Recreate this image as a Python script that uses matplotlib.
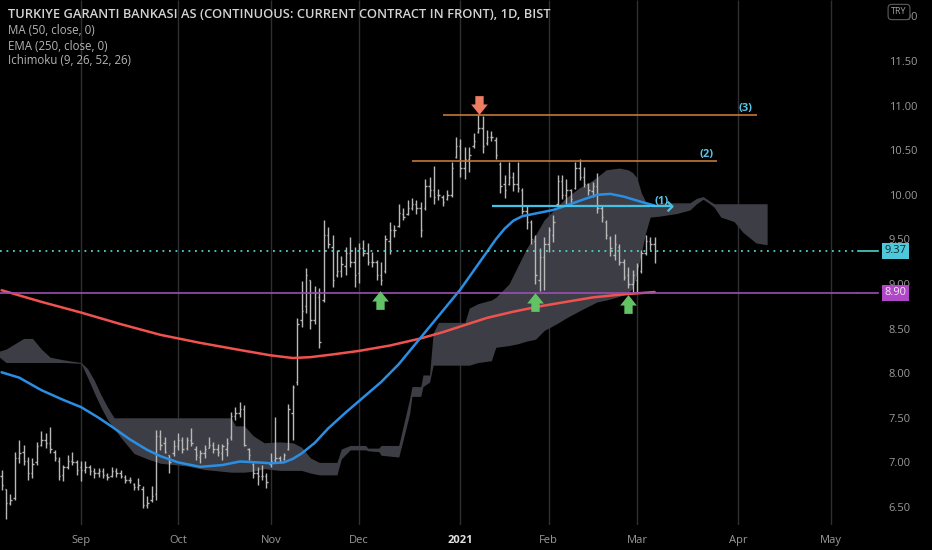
import matplotlib
matplotlib.use("Agg")
import matplotlib.pyplot as plt
import matplotlib.transforms as mtransforms
from matplotlib.path import Path
import numpy as np

plt.rcParams['font.family'] = ['Open Sans', 'DejaVu Sans']

# ---------------- data ----------------
highs = [6.92, 6.70, 6.65, 7.12, 7.25, 7.20, 7.06, 7.05, 7.23, 7.35,
         7.33, 7.40, 7.14, 7.06, 6.97, 7.08, 7.12, 7.03, 7.01, 7.01,
         6.97, 6.94, 6.94, 6.94, 6.88, 6.95, 6.94, 6.92, 6.86, 6.84,
         6.77, 6.82, 6.73, 6.62, 6.73, 7.36, 7.36, 7.29, 7.08, 7.25,
         7.33, 7.29, 7.29, 7.38, 7.18, 7.14, 7.20, 7.29, 7.23, 7.21,
         7.21, 7.27, 7.57, 7.62, 7.68, 7.64, 7.16, 6.99, 6.95, 6.97,
         6.88, 7.10, 7.51, 7.07, 7.10, 7.66, 7.87, 8.62, 9.03, 9.18,
         9.05, 8.98, 8.95, 9.72, 9.64, 9.55, 9.38, 9.31, 9.42, 9.53,
         9.42, 9.46, 9.49, 9.46, 9.36, 9.27, 9.25, 9.55, 9.70, 9.66,
         9.90, 9.85, 9.94, 9.96, 9.94, 9.92, 10.18, 10.20, 10.32, 10.07,
         10.00, 10.05, 10.37, 10.65, 10.63, 10.54, 10.54, 10.69, 10.90, 10.88,
         10.73, 10.71, 10.65, 10.37, 10.22, 10.37, 10.26, 10.37, 10.08, 9.89,
         9.72, 9.55, 9.40, 9.53, 9.64, 9.77, 10.22, 10.22, 10.18, 10.07,
         10.37, 10.40, 10.31, 10.13, 10.14, 10.24, 9.88, 9.72, 9.54, 9.56,
         9.45, 9.28, 9.19, 9.16, 9.23, 9.38, 9.55, 9.53, 9.53]
lows = [6.69, 6.37, 6.52, 6.58, 6.99, 6.97, 6.80, 6.82, 6.97, 7.18,
        7.16, 7.10, 7.01, 6.80, 6.79, 6.93, 6.97, 6.86, 6.79, 6.88,
        6.86, 6.82, 6.84, 6.82, 6.80, 6.84, 6.84, 6.82, 6.77, 6.77,
        6.69, 6.69, 6.49, 6.49, 6.56, 6.58, 7.14, 7.10, 6.88, 7.07,
        7.14, 7.10, 7.14, 7.18, 7.03, 6.99, 7.05, 7.16, 7.10, 7.07,
        7.03, 7.07, 7.25, 7.48, 7.51, 7.18, 7.03, 6.82, 6.75, 6.80,
        6.71, 6.95, 6.99, 6.99, 7.03, 7.14, 7.25, 7.87, 8.52, 8.67,
        8.50, 8.55, 8.28, 8.80, 9.40, 8.97, 9.08, 9.08, 9.10, 9.19,
        8.97, 9.01, 9.31, 9.21, 9.19, 9.05, 8.99, 9.12, 9.34, 9.53,
        9.64, 9.72, 9.77, 9.83, 9.79, 9.53, 9.83, 9.98, 9.90, 9.94,
        9.87, 9.94, 9.98, 10.41, 10.20, 10.18, 10.26, 10.52, 10.69, 10.47,
        10.56, 10.60, 10.40, 10.02, 9.96, 10.11, 10.04, 10.03, 9.78, 9.62,
        9.45, 9.00, 8.92, 8.93, 9.36, 9.47, 9.88, 9.95, 9.90, 9.89,
        10.06, 10.17, 10.09, 10.00, 9.97, 9.80, 9.70, 9.51, 9.31, 9.27,
        9.21, 9.04, 8.96, 8.90, 8.90, 9.12, 9.32, 9.38, 9.23]
opens = [6.85, 6.70, 6.55, 6.60, 7.05, 7.12, 7.02, 6.88, 7.00, 7.20,
         7.25, 7.22, 7.12, 7.02, 6.86, 6.95, 7.02, 7.00, 6.95, 6.92,
         6.95, 6.90, 6.88, 6.90, 6.86, 6.85, 6.90, 6.88, 6.84, 6.80,
         6.76, 6.72, 6.70, 6.52, 6.58, 6.65, 7.30, 7.22, 7.08, 7.10,
         7.18, 7.25, 7.16, 7.25, 7.15, 7.06, 7.10, 7.16, 7.20, 7.15,
         7.10, 7.15, 7.28, 7.52, 7.55, 7.60, 7.15, 6.98, 6.88, 6.85,
         6.85, 6.98, 7.03, 7.05, 7.04, 7.15, 7.55, 7.90, 8.60, 8.75,
         9.05, 8.60, 8.85, 8.82, 9.55, 9.42, 9.10, 9.15, 9.20, 9.35,
         9.25, 9.12, 9.40, 9.35, 9.25, 9.25, 9.10, 9.15, 9.48, 9.60,
         9.65, 9.78, 9.78, 9.85, 9.90, 9.85, 9.85, 10.10, 10.05, 10.00,
         9.98, 9.95, 10.00, 10.42, 10.55, 10.30, 10.40, 10.55, 10.70, 10.75,
         10.58, 10.65, 10.62, 10.35, 10.12, 10.12, 10.20, 10.12, 10.05, 9.82,
         9.70, 9.48, 9.05, 9.30, 9.45, 9.55, 9.90, 10.15, 10.00, 10.05,
         10.08, 10.30, 10.20, 10.12, 10.04, 10.10, 9.85, 9.70, 9.52, 9.32,
         9.42, 9.25, 9.10, 9.00, 9.05, 9.15, 9.35, 9.48, 9.45]
closes = [6.75, 6.55, 6.58, 7.05, 7.10, 7.02, 6.88, 6.98, 7.18, 7.25,
          7.22, 7.15, 7.05, 6.85, 6.95, 7.02, 7.00, 6.92, 6.92, 6.95,
          6.90, 6.88, 6.90, 6.86, 6.84, 6.90, 6.88, 6.85, 6.80, 6.80,
          6.72, 6.75, 6.52, 6.55, 6.62, 7.30, 7.20, 7.12, 7.00, 7.18,
          7.25, 7.15, 7.25, 7.22, 7.08, 7.10, 7.15, 7.20, 7.15, 7.12,
          7.18, 7.22, 7.52, 7.55, 7.60, 7.20, 7.08, 6.88, 6.85, 6.85,
          6.78, 7.02, 7.05, 7.02, 7.08, 7.60, 7.85, 8.55, 8.70, 9.10,
          8.60, 8.90, 8.35, 9.55, 9.45, 9.05, 9.15, 9.22, 9.35, 9.25,
          9.10, 9.40, 9.35, 9.25, 9.25, 9.10, 9.05, 9.50, 9.60, 9.60,
          9.80, 9.75, 9.85, 9.90, 9.85, 9.60, 10.10, 10.05, 9.98, 10.00,
          9.92, 10.00, 10.30, 10.55, 10.30, 10.40, 10.45, 10.60, 10.75, 10.55,
          10.65, 10.65, 10.45, 10.10, 10.05, 10.20, 10.12, 10.08, 9.82, 9.70,
          9.50, 9.10, 9.30, 9.45, 9.60, 9.70, 10.15, 10.00, 10.05, 9.95,
          10.30, 10.20, 10.12, 10.05, 10.10, 9.85, 9.75, 9.55, 9.40, 9.45,
          9.25, 9.08, 9.00, 9.10, 9.20, 9.35, 9.48, 9.45, 9.37]

ma_idx = [0, 4, 9, 14, 18, 22, 25, 29, 33, 36, 40, 45, 50, 54, 58, 61, 64,
          66, 68, 71, 74, 78, 82, 86, 90, 93, 97, 101, 104, 107, 110, 112,
          114, 116, 118, 120, 122, 125, 128, 132, 135, 138, 141, 145, 148]
ma_vals = [8.01, 7.95, 7.81, 7.70, 7.62, 7.50, 7.40, 7.26, 7.14, 7.07, 7.00,
           6.95, 6.97, 7.01, 7.00, 6.99, 7.00, 7.04, 7.10, 7.22, 7.38, 7.56,
           7.73, 7.90, 8.10, 8.28, 8.52, 8.76, 8.94, 9.15, 9.36, 9.50, 9.62,
           9.71, 9.76, 9.78, 9.80, 9.83, 9.88, 9.95, 10.00, 10.01, 9.98, 9.92,
           9.88]

ema_idx = [0, 9, 18, 27, 36, 45, 54, 61, 66, 70, 75, 81, 88, 95, 100, 105,
           110, 116, 122, 128, 134, 140, 148]
ema_vals = [8.93, 8.80, 8.68, 8.55, 8.43, 8.34, 8.26, 8.20, 8.17, 8.18, 8.21,
            8.25, 8.31, 8.39, 8.46, 8.54, 8.62, 8.69, 8.75, 8.80, 8.85, 8.88,
            8.91]

cloud_idx = [-1, 1, 3, 5, 7, 9, 11, 14, 18, 19.5, 21, 22.5, 24, 25.5, 27, 30,
             33, 36, 42, 46, 52, 53, 55, 57, 59.5, 63, 66, 68, 70, 72, 76, 77,
             79, 82.5, 83, 85.5, 86, 90, 91, 92.5, 93, 95, 95.5, 97, 97.8, 99,
             105, 106, 108, 111, 112, 115, 117, 119, 121, 123, 126, 128, 131,
             133, 135, 137, 140, 142, 143, 144, 145, 146, 147, 149, 153, 156,
             157.5, 159, 160.5, 161.5, 163, 166, 168, 169.5, 171, 173.5]
cloud_top = [8.24, 8.27, 8.33, 8.39, 8.39, 8.27, 8.18, 8.15, 8.12, 8.05, 7.92,
             7.76, 7.62, 7.50, 7.50, 7.50, 7.50, 7.50, 7.50, 7.50, 7.50, 7.41,
             7.41, 7.30, 7.22, 7.23, 7.22, 7.17, 7.05, 7.00, 7.00, 7.15, 7.19,
             7.19, 7.16, 7.16, 7.19, 7.19, 7.40, 7.72, 7.85, 7.85, 7.98, 7.98,
             8.45, 8.57, 8.57, 8.73, 8.78, 8.82, 8.85, 9.00, 9.20, 9.40, 9.55,
             9.72, 9.87, 9.97, 10.08, 10.13, 10.20, 10.28, 10.30, 10.28, 10.25,
             10.19, 10.02, 9.92, 9.86, 9.91, 9.91, 9.91, 9.96, 9.98, 9.93, 9.90,
             9.90, 9.90, 9.90, 9.90, 9.90, 9.90]
cloud_bot = [8.20, 8.12, 8.12, 8.12, 8.12, 8.12, 8.12, 8.12, 8.11, 7.95, 7.78,
             7.62, 7.48, 7.38, 7.28, 7.10, 7.04, 6.99, 6.96, 6.92, 6.89, 6.89,
             6.89, 6.90, 6.93, 6.91, 6.91, 6.91, 6.88, 6.86, 6.86, 7.04, 7.14,
             7.14, 7.13, 7.12, 7.08, 7.06, 7.25, 7.55, 7.74, 7.74, 7.85, 7.90,
             8.09, 8.09, 8.09, 8.09, 8.12, 8.14, 8.29, 8.31, 8.33, 8.36, 8.38,
             8.48, 8.56, 8.62, 8.70, 8.75, 8.80, 8.82, 8.86, 8.90, 8.95, 9.12,
             9.35, 9.58, 9.75, 9.76, 9.79, 9.83, 9.90, 9.95, 9.90, 9.86, 9.75,
             9.70, 9.58, 9.52, 9.46, 9.44]

month_idx = [18, 40, 61, 81, 104, 124, 144, 167, 188]
month_labels = ['Sep', 'Oct', 'Nov', 'Dec', '2021', 'Feb', 'Mar', 'Apr', 'May']
ytick_vals = [6.5, 7.0, 7.5, 8.0, 8.5, 9.0, 9.5, 10.0, 10.5, 11.0, 11.5, 12.0]

support_level = 8.90
last_price = 9.37
levels = [10.90, 10.38, 9.87]
level_start = [100.0, 93.0, 111.2]
level_end = [171.2, 162.1, 152.0]
level_labels = ['(3)', '(2)', '(1)']
level_label_idx = [168.5, 159.7, 149.5]
level_label_price = [10.97, 10.45, 9.93]

up_arrow_idx = [85.8, 120.9, 142.0]
up_arrow_price = [8.82, 8.80, 8.78]
down_arrow_idx = [108.2]
down_arrow_price = [11.01]

legend_lines = ['TURKIYE GARANTI BANKASI AS (CONTINUOUS: CURRENT CONTRACT IN FRONT), 1D, BIST',
                'MA (50, close, 0)', 'EMA (250, close, 0)', 'Ichimoku (9, 26, 52, 26)']

# ---------------- figure ----------------
W, H = 932, 550
fig = plt.figure(figsize=(W / 100, H / 100), dpi=100, facecolor='black')
ax = fig.add_axes([0, 25 / H, 858 / W, 525 / H], facecolor='black')
ax.set_xlim(-0.363, 194.1)
ax.set_ylim(6.298, 12.184)
for s in ax.spines.values():
    s.set_visible(False)

# month grid
ax.vlines(month_idx, 6.298, 12.184, color='#2e2e33', lw=1.0, zorder=0)

# ichimoku cloud
ax.fill_between(cloud_idx, cloud_bot, cloud_top, color='#3d3e45', lw=0, zorder=1)

# OHLC bars
idx = np.arange(len(highs))
bar_col = '#b9b9b9'
ax.vlines(idx, lows, highs, color=bar_col, lw=1.0, zorder=3)
ax.hlines(opens, idx - 0.32, idx, color=bar_col, lw=1.0, zorder=3)
ax.hlines(closes, idx, idx + 0.32, color=bar_col, lw=1.0, zorder=3)

# moving averages
ax.plot(ema_idx, ema_vals, color='#f0524f', lw=1.8, zorder=4,
        solid_capstyle='round', solid_joinstyle='round')
ax.plot(ma_idx, ma_vals, color='#2a8fe4', lw=1.8, zorder=4,
        solid_capstyle='round', solid_joinstyle='round')

# horizontal levels
ax.axhline(support_level, color='#9a4fb4', lw=1.2, zorder=5)
ax.axhline(last_price, color='#4fd0c8', lw=1.3, ls=(0, (1, 2.6)), zorder=5)
lvl_cols = ['#c47838', '#c47838', '#44c2e6']
lvl_w = [1.2, 1.2, 1.6]
for lv, a, b, c, w in zip(levels, level_start, level_end, lvl_cols, lvl_w):
    ax.hlines(lv, a, b, color=c, lw=w, zorder=5)
chev = Path([(-1, 1), (0, 0), (-1, -1)], [Path.MOVETO, Path.LINETO, Path.LINETO])
ax.plot([level_end[2]], [levels[2]], ls='none', marker=chev, markersize=7,
        mfc='none', mec='#44c2e6', mew=1.6, zorder=5)
for t, xi, yi in zip(level_labels, level_label_idx, level_label_price):
    ax.text(xi, yi, t, color='#58c4e8', fontsize=8, fontweight='bold',
            ha='center', va='center', zorder=6)

# arrows
up_path = Path([(0, 9), (8, -1), (4, -1), (4, -9), (-4, -9), (-4, -1), (-8, -1), (0, 9)])
down_path = Path([(0, -9), (8, 1), (4, 1), (4, 9), (-4, 9), (-4, 1), (-8, 1), (0, -9)])
ax.plot(up_arrow_idx, up_arrow_price, ls='none', marker=up_path, markersize=13.5,
        color='#63c266', mec='none', zorder=6)
ax.plot(down_arrow_idx, down_arrow_price, ls='none', marker=down_path, markersize=13.5,
        color='#ef7d62', mec='none', zorder=6)

# axes ticks
ax.set_xticks(month_idx)
ax.set_xticklabels(month_labels)
ax.tick_params(axis='x', length=0, pad=7, labelsize=8, labelcolor='#9a9a9a')
for lbl in ax.get_xticklabels():
    if lbl.get_text() == '2021':
        lbl.set_color('#e2e2e2')
        lbl.set_fontweight('bold')
ax.yaxis.tick_right()
ax.set_yticks(ytick_vals)
ax.set_yticklabels([f'{v:.2f}' for v in ytick_vals])
ax.tick_params(axis='y', length=0, pad=22, labelsize=8, labelcolor='#9a9a9a')

# price boxes
trans = mtransforms.blended_transform_factory(ax.transAxes, ax.transData)
ax.plot([1.0, 878 / 858], [last_price, last_price], transform=trans, color='#4fd0c8',
        lw=1.2, clip_on=False)
ax.plot([1.0, 878 / 858], [support_level, support_level], transform=trans,
        color='#9a4fb4', lw=1.2, clip_on=False)
ax.text(895.5 / 858, last_price, f'{last_price:.2f}', transform=trans, ha='center',
        va='center', fontsize=8, color='#0d2a30', clip_on=False, zorder=10,
        bbox=dict(boxstyle='square,pad=0.25', fc='#4fc8da', ec='none'))
ax.text(895.5 / 858, support_level, f'{support_level:.2f}', transform=trans, ha='center',
        va='center', fontsize=8, color='#f4e6f7', clip_on=False, zorder=10,
        bbox=dict(boxstyle='square,pad=0.25', fc='#b047c6', ec='none'))

# currency box
fig.text(899 / W, 1 - 12 / H, 'TRY', ha='center', va='center', fontsize=6.5,
         color='#a0a0a0', zorder=20,
         bbox=dict(boxstyle='round,pad=0.35,rounding_size=0.4', fc='black',
                   ec='#5c5c5c', lw=0.8))

# legend texts
ys = [15, 31, 46, 61]
for k, (t, yy) in enumerate(zip(legend_lines, ys)):
    fig.text(8 / W, 1 - yy / H, t, ha='left', va='center',
             fontsize=9.3 if k == 0 else 8.3,
             color='#d4d4d4' if k == 0 else '#b4b4b4',
             fontweight='semibold' if k == 0 else 'normal')

fig.savefig('out.png', dpi=100, facecolor='black')
